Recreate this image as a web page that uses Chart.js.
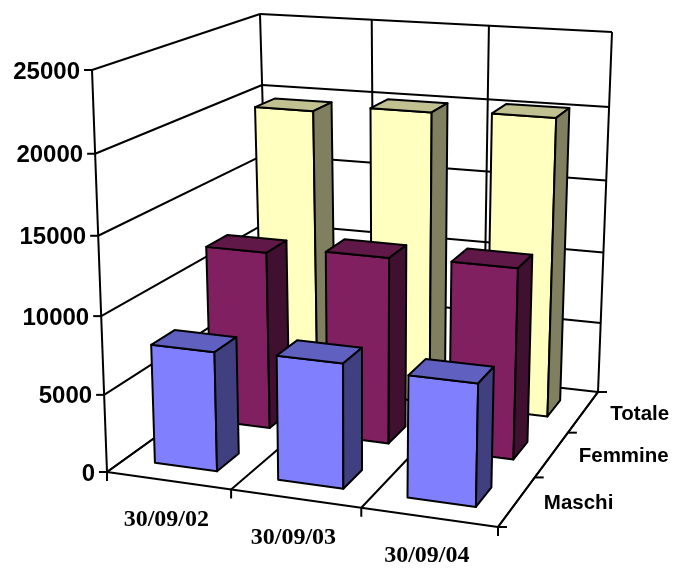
<!DOCTYPE html>
<html>
<head>
<meta charset="utf-8">
<style>
    body { margin: 0; background: #fff; }
</style>
<script src="https://cdn.jsdelivr.net/npm/chart.js@4"></script>
</head>
<body>
<canvas id="chart" width="675" height="568"></canvas>
<script>
const dates = ['30/09/02', '30/09/03', '30/09/04'];
const seriesNames = ['Maschi', 'Femmine', 'Totale'];
const maschi = [7700, 7950, 7700];
const femmine = [11900, 12350, 12500];
const totale = [19600, 20070, 20280];

// front, top and side colours of each series
const faceColors = [
    ['#8080ff', '#6060c0', '#404080'],
    ['#802060', '#601848', '#401030'],
    ['#ffffc0', '#c0c090', '#808060']
];

// Where the 3D box lands on the page: [x, y] of its corners
const box = {
    frontBottomLeft: [107, 472], frontBottomRight: [498, 527],
    backBottomLeft: [270, 355], backBottomRight: [598, 392],
    frontTopLeft: [92, 70], frontTopRight: [507, 102],
    backTopLeft: [260, 14], backTopRight: [612, 32]
};
const depthFraction = 0.4;

// perspective squeeze along one axis
function warp(t, k) {
    return t * k / (1 + (k - 1) * t);
}

function mix(a, b, t) {
    return [a[0] + (b[0] - a[0]) * t, a[1] + (b[1] - a[1]) * t];
}

// u along dates, v up the values, w back through the series, all 0..1
function project(u, v, w) {
    const uu = warp(u, 0.93), vv = warp(v, 0.95), ww = warp(w, 1.16);
    const fb = mix(box.frontBottomLeft, box.frontBottomRight, uu);
    const bb = mix(box.backBottomLeft, box.backBottomRight, uu);
    const ft = mix(box.frontTopLeft, box.frontTopRight, uu);
    const bt = mix(box.backTopLeft, box.backTopRight, uu);
    return mix(mix(fb, bb, ww), mix(ft, bt, ww), vv);
}

function line(ctx, a, b) {
    ctx.beginPath();
    ctx.moveTo(a[0], a[1]);
    ctx.lineTo(b[0], b[1]);
    ctx.stroke();
}

function poly(ctx, points, fill) {
    ctx.beginPath();
    points.forEach((p, i) => i ? ctx.lineTo(p[0], p[1]) : ctx.moveTo(p[0], p[1]));
    ctx.closePath();
    ctx.fillStyle = fill;
    ctx.fill();
    ctx.stroke();
}

const box3d = {
    id: 'box3d',
    beforeDatasetsDraw(chart) {
        const ctx = chart.ctx;
        const { x, y, z } = chart.scales;
        const toU = px => (px - x.left) / x.width;
        const toV = px => (y.bottom - px) / y.height;
        const toW = px => (px - z.top) / z.height;
        const xEdges = dates.map((d, i) => toU(x.getPixelForValue(i)) - 0.5 / dates.length).concat(1);
        const zEdges = seriesNames.map((s, i) => toW(z.getPixelForValue(i)) - 0.5 / seriesNames.length).concat(1);
        const yTicks = y.ticks.map(t => t.value);

        ctx.save();
        ctx.strokeStyle = '#000';
        ctx.lineWidth = 2;
        ctx.lineJoin = 'round';
        ctx.fillStyle = '#000';

        // walls
        yTicks.forEach(value => {
            const v = toV(y.getPixelForValue(value));
            const front = project(0, v, 0);
            line(ctx, front, project(0, v, 1));
            line(ctx, project(0, v, 1), project(1, v, 1));
            line(ctx, front, [front[0] - 8, front[1]]);
        });
        xEdges.forEach(u => {
            line(ctx, project(u, 0, 1), project(u, 1, 1));
            line(ctx, project(u, 0, 0), project(u, 0, 1));
            const p = project(u, 0, 0);
            line(ctx, p, [p[0], p[1] + 9]);
        });
        line(ctx, project(0, 0, 0), project(0, 1, 0));
        line(ctx, project(0, 0, 0), project(1, 0, 0));
        line(ctx, project(1, 0, 0), project(1, 0, 1));
        zEdges.forEach(w => {
            const p = project(1, 0, w);
            line(ctx, p, [p[0] + 9, p[1]]);
        });

        // bars, back row first
        for (let d = chart.data.datasets.length - 1; d >= 0; d--) {
            const colors = faceColors[d];
            const wMid = toW(z.getPixelForValue(d));
            const half = depthFraction / seriesNames.length / 2;
            chart.getDatasetMeta(d).data.forEach(bar => {
                const u0 = toU(bar.x - bar.width / 2), u1 = toU(bar.x + bar.width / 2);
                const v0 = toV(bar.base), v1 = toV(bar.y);
                const w0 = wMid - half, w1 = wMid + half;
                poly(ctx, [project(u0, v0, w0), project(u1, v0, w0), project(u1, v1, w0), project(u0, v1, w0)], colors[0]);
                poly(ctx, [project(u0, v1, w0), project(u1, v1, w0), project(u1, v1, w1), project(u0, v1, w1)], colors[1]);
                poly(ctx, [project(u1, v0, w0), project(u1, v0, w1), project(u1, v1, w1), project(u1, v1, w0)], colors[2]);
            });
        }

        // text
        ctx.fillStyle = '#000';
        ctx.textBaseline = 'middle';
        ctx.font = 'bold 24px "Liberation Sans"';
        ctx.textAlign = 'right';
        yTicks.forEach(value => {
            const p = project(0, toV(y.getPixelForValue(value)), 0);
            ctx.fillText(String(value), p[0] - 12, p[1] + 2);
        });
        ctx.font = 'bold 20.5px "Liberation Sans"';
        ctx.textAlign = 'left';
        seriesNames.forEach((name, i) => {
            const p = project(1, 0, toW(z.getPixelForValue(i)));
            ctx.fillText(name, p[0] + 27, p[1] + 2);
        });
        ctx.font = 'bold 24px "Liberation Serif"';
        ctx.textAlign = 'center';
        dates.forEach((label, i) => {
            const p = project(toU(x.getPixelForValue(i)), 0, 0);
            ctx.fillText(label, p[0] - 2, p[1] + 39);
        });
        ctx.restore();
        return false; // the default flat bars are replaced by the boxes above
    }
};

new Chart(document.getElementById('chart'), {
    type: 'bar',
    data: {
        labels: dates,
        datasets: [
            { label: seriesNames[0], data: maschi },
            { label: seriesNames[1], data: femmine },
            { label: seriesNames[2], data: totale }
        ]
    },
    options: {
        responsive: false,
        animation: false,
        layout: { padding: 0 },
        plugins: { legend: { display: false }, tooltip: { enabled: false } },
        datasets: { bar: { grouped: false, barPercentage: 0.51, categoryPercentage: 1 } },
        scales: {
            x: { display: false },
            y: { display: false, min: 0, max: 25000, ticks: { stepSize: 5000 } },
            z: { display: false, type: 'category', axis: 'y', position: 'right', labels: seriesNames, offset: true }
        }
    },
    plugins: [box3d]
});
</script>
</body>
</html>
